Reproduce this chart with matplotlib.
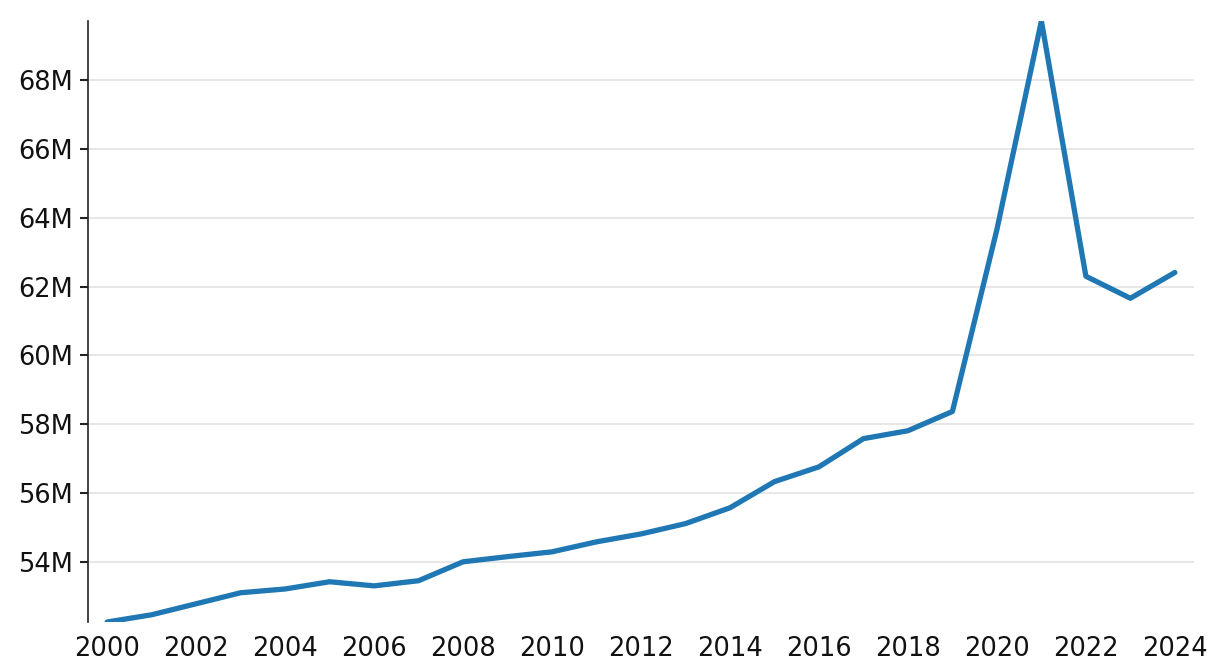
import matplotlib
matplotlib.use('Agg')
import matplotlib.pyplot as plt
from matplotlib.ticker import FuncFormatter

plt.rcParams['font.family'] = ['DejaVu Sans']

years = list(range(2000, 2025))
values = [52.25, 52.46, 52.78, 53.10, 53.21, 53.42, 53.30, 53.45, 54.00, 54.15,
          54.29, 54.58, 54.81, 55.11, 55.57, 56.33, 56.76, 57.58, 57.81, 58.37,
          63.66, 69.72, 62.30, 61.66, 62.41]  # millions
xticks = list(range(2000, 2025, 2))
yticks = [54, 56, 58, 60, 62, 64, 66, 68]

fig = plt.figure(figsize=(12.2, 6.7), dpi=100)
ax = fig.add_axes([88/1220, 1 - 622/670, (1194-88)/1220, (622-21)/670])

ax.plot(years, values, color='#1f77b4', linewidth=3.8, solid_capstyle='round', zorder=3)

ax.set_xlim(1999.57, 2024.43)
ax.set_ylim(min(values), max(values))
ax.set_xticks(xticks)
ax.set_yticks(yticks)
ax.yaxis.set_major_formatter(FuncFormatter(lambda v, p: '%dM' % v))
ax.grid(axis='y', color='#e3e3e3', linewidth=1.2)
ax.set_axisbelow(True)

for s in ['top', 'right', 'bottom']:
    ax.spines[s].set_visible(False)
ax.spines['left'].set_color('#222222')
ax.spines['left'].set_linewidth(1.2)

ax.tick_params(axis='x', length=0, pad=10, labelsize=18.5)
ax.tick_params(axis='y', length=6, width=1.5, pad=5, labelsize=18.5, colors='#222222')
for lab in ax.get_xticklabels() + ax.get_yticklabels():
    lab.set_color('#111111')

fig.savefig('out.png', dpi=100)
